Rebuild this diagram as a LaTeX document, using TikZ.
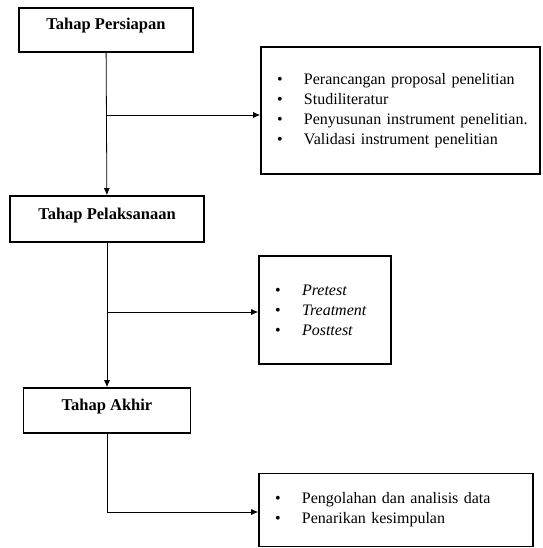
\documentclass[tikz,border=0pt]{standalone}
\usepackage{fontspec}
\setmainfont{Liberation Serif}
\usepackage{tikz}
\usetikzlibrary{
        arrows.meta,
        positioning
    }
\tikzset{>={Latex[length=7pt,width=6pt]},auto}
\tikzset{tahap/.style={draw,line width=1.6pt,font=\bfseries\fontsize{16.5}{20}\selectfont,
        text height=7pt,text depth=7pt,inner sep=2pt}}
\tikzset{daftar/.style={draw,line width=1.6pt,align=left,inner xsep=4pt,
        font=\fontsize{16}{20}\selectfont}}
\newcommand{\butir}[1]{\hspace*{12pt}\makebox[27pt][l]{\textbullet}#1}

\begin{document}
\begin{tikzpicture}[x=1pt,y=-1pt,line width=0.8pt]
                        \useasboundingbox (0,0) rectangle (542,548);
                        \node[tahap,minimum width=174pt,minimum height=44pt] (persiapan) at (106,30) {Tahap Persiapan};
                        \node[tahap,minimum width=194pt,minimum height=46pt] (pelaksanaan) at (107,219) {Tahap Pelaksanaan};
                        \node[tahap,minimum width=167pt,minimum height=45pt] (akhir) at (107,410.5) {Tahap Akhir};
                        \node[daftar,text width=271pt,minimum height=127pt] (kegiatan1) at (400.5,110.5)
                            {\butir{Perancangan proposal penelitian}\\
                             \butir{Studiliteratur}\\
                             \butir{Penyusunan instrument penelitian.}\\
                             \butir{Validasi instrument penelitian}};
                        \node[daftar,text width=124pt,minimum height=108pt] (kegiatan2) at (325,310)
                            {\butir{\textit{Pretest}}\\
                             \butir{\textit{Treatment}}\\
                             \butir{\textit{Posttest}}};
                        \node[daftar,text width=266pt,minimum height=73pt] (kegiatan3) at (396,510)
                            {\butir{Pengolahan dan analisis data}\\
                             \butir{Penarikan kesimpulan}};
                        \coordinate (c1) at (persiapan.south |- 0,115);
                        \coordinate (c2) at (pelaksanaan.south |- 0,312);
                        \coordinate (c3) at (akhir.south |- 0,512);
                        \path[->]
                            (persiapan)   edge (pelaksanaan)
                            (pelaksanaan) edge (akhir)
                            (c1) edge (c1 -| kegiatan1.west)
                            (c2) edge (c2 -| kegiatan2.west);
                        \draw[->] (akhir) -- (c3) -- (c3 -| kegiatan3.west);
                    \end{tikzpicture}
\end{document}
